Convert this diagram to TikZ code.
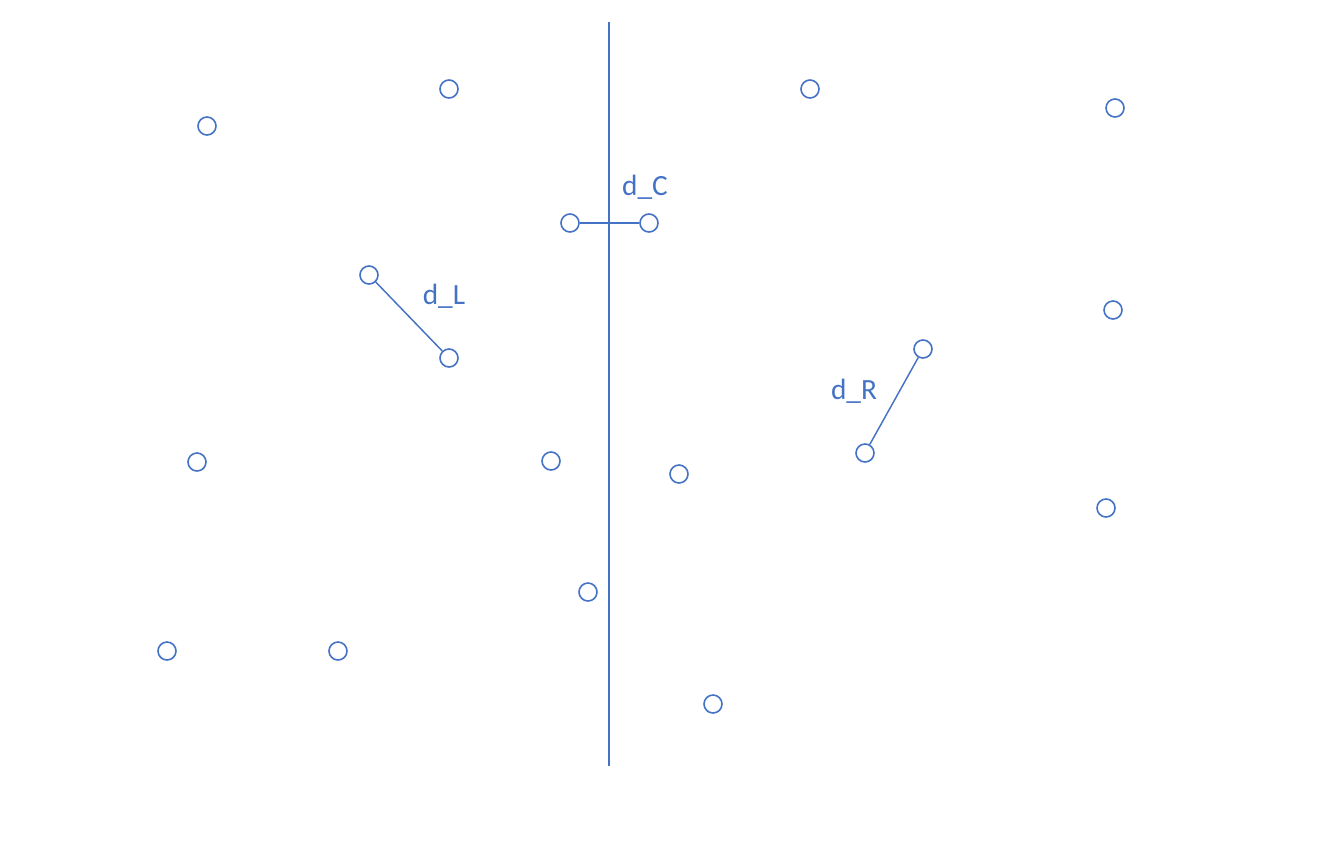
\documentclass[tikz,border=0pt]{standalone}
\usepackage{fontspec}
\setmainfont{Carlito}
\definecolor{pblue}{HTML}{4472C4}
\begin{document}
\begin{tikzpicture}[x=0.75pt,y=-0.75pt,
  pt/.style={circle,draw=pblue,line width=1.2pt,fill=white,inner sep=0pt,minimum size=13.5pt},
  conn/.style={draw=pblue,line width=1.1pt},
  lab/.style={text=pblue,font=\fontsize{22}{26}\selectfont,inner sep=0pt}]
\useasboundingbox (0,0) rectangle (1320,858);
\coordinate (vt) at (609,22);
\coordinate (vb) at (609,766);
\draw[conn] (vt) -- (vb);
\node[pt] (p1) at (207,126) {};
\node[pt] (p2) at (449,89) {};
\node[pt] (p3) at (810,89) {};
\node[pt] (p4) at (1115,108) {};
\node[pt] (c1) at (570,223) {};
\node[pt] (c2) at (649,223) {};
\node[pt] (l1) at (369,275) {};
\node[pt] (l2) at (449,358) {};
\node[pt] (p5) at (1113,310) {};
\node[pt] (r1) at (923,349) {};
\node[pt] (r2) at (865,453) {};
\node[pt] (p6) at (197,462) {};
\node[pt] (p7) at (551,461) {};
\node[pt] (p8) at (679,474) {};
\node[pt] (p9) at (1106,508) {};
\node[pt] (p10) at (588,592) {};
\node[pt] (p11) at (167,651) {};
\node[pt] (p12) at (338,651) {};
\node[pt] (p13) at (713,704) {};
\draw[conn] (c1) -- (c2);
\draw[conn] (l1) -- (l2);
\draw[conn] (r1) -- (r2);
\node[lab] (tC) at (645,187) {d\_C};
\node[lab] (tL) at (444,296) {d\_L};
\node[lab] (tR) at (854,391) {d\_R};
\end{tikzpicture}
\end{document}
